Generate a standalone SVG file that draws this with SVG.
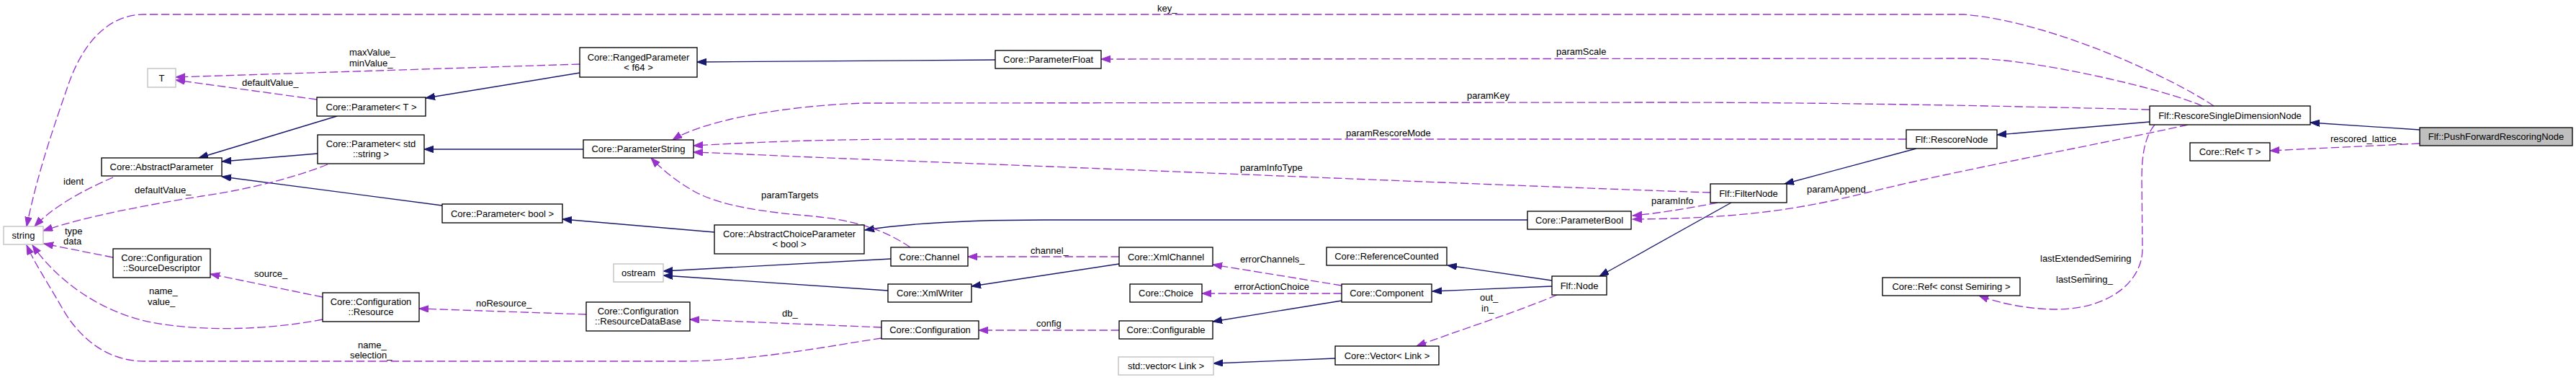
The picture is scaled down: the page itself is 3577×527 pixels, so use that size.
<svg xmlns="http://www.w3.org/2000/svg" width="3577" height="527" viewBox="0 0 3577 527">
<style>
  .n { fill: #ffffff; stroke: #000000; stroke-width: 1.33; }
  .ng { fill: #ffffff; stroke: #bfbfbf; stroke-width: 1.33; }
  .nf { fill: #bfbfbf; stroke: #000000; stroke-width: 1.33; }
  text { font-family: "Liberation Sans", Arial, sans-serif; font-size: 13px; fill: #000000; }
  .t { text-anchor: middle; }
  .inh { fill: none; stroke: #191970; stroke-width: 1.33; marker-end: url(#ab); }
  .use { fill: none; stroke: #9a32cd; stroke-width: 1.33; stroke-dasharray: 11.5,4.5; marker-end: url(#ap); }
</style>
<defs>
  <marker id="ab" markerUnits="userSpaceOnUse" markerWidth="14" markerHeight="10" refX="13" refY="4.7" orient="auto">
    <path d="M0,0 L13,4.7 L0,9.4 z" fill="#191970" stroke="#191970" stroke-width="1"/>
  </marker>
  <marker id="ap" markerUnits="userSpaceOnUse" markerWidth="14" markerHeight="10" refX="13" refY="4.7" orient="auto">
    <path d="M0,0 L13,4.7 L0,9.4 z" fill="#9a32cd" stroke="#9a32cd" stroke-width="1"/>
  </marker>
</defs>
<rect x="0" y="0" width="3577" height="527" fill="#ffffff"/>

<g id="connectors">
  <!-- inheritance -->
  <path class="inh" d="M3360,180 L3208,170"/>
  <path class="inh" d="M2985,169 L2773,187"/>
  <path class="inh" d="M2661,206 L2478,255"/>
  <path class="inh" d="M2404,281 L2221,383"/>
  <path class="inh" d="M2155,389 L2010,368"/>
  <path class="inh" d="M2155,397 L1989,404"/>
  <path class="inh" d="M1863,417 L1684,446"/>
  <path class="inh" d="M1854,497 L1685,504"/>
  <path class="inh" d="M1554,366 L1349,397"/>
  <path class="inh" d="M1233,403 L921,382"/>
  <path class="inh" d="M1237,359 L921,376"/>
  <path class="inh" d="M2121,305 L1450,305 C1350,305 1260,310 1201,319"/>
  <path class="inh" d="M992,322 L781,304"/>
  <path class="inh" d="M614,285 L308,245"/>
  <path class="inh" d="M441,213 L308,224"/>
  <path class="inh" d="M468,161 L276,219"/>
  <path class="inh" d="M805,101 L591,136"/>
  <path class="inh" d="M1382,83 L968,86"/>
  <path class="inh" d="M810,207 L589,207"/>
  <!-- usage -->
  <path class="use" d="M3074,147 C3020,110 2850,30 2727,20 L200,20 C150,20 115,60 95,117 C75,175 52,240 37,314"/>
  <path class="use" d="M3058,147 C3010,125 2830,82 2739,81 L1529,82"/>
  <path class="use" d="M2985,152 C2700,145 2500,142 2300,142 L1200,143 C1100,146 980,165 934,194"/>
  <path class="use" d="M2647,193 L1250,193 C1100,194 1020,199 963,202"/>
  <path class="use" d="M2375,267 C2100,258 1500,232 1200,221 C1100,217 1020,213 963,211"/>
  <path class="use" d="M3038,173 C2950,193 2700,240 2593,267 C2500,290 2420,303 2267,304"/>
  <path class="use" d="M2385,281 C2340,290 2300,296 2267,299"/>
  <path class="use" d="M2992,173 C2978,190 2974,215 2974,250 L2975,345 C2975,390 2930,428 2857,429 C2820,429 2780,422 2748,410"/>
  <path class="use" d="M3360,199 L3152,209"/>
  <path class="use" d="M2162,409 C2100,435 2020,460 1967,480"/>
  <path class="use" d="M1863,396 L1684,367"/>
  <path class="use" d="M1863,407 L1669,407"/>
  <path class="use" d="M1554,458 L1359,458"/>
  <path class="use" d="M1554,356 L1344,356"/>
  <path class="use" d="M1264,343 C1230,320 1190,305 1120,299 C1060,294 1000,285 965,266 C940,252 920,236 904,219"/>
  <path class="use" d="M805,89 L244,107"/>
  <path class="use" d="M440,138 L244,111"/>
  <path class="use" d="M157,246 C120,262 75,285 48,314"/>
  <path class="use" d="M455,228 C400,250 330,265 280,272 C200,285 120,300 60,320"/>
  <path class="use" d="M157,357 L61,338"/>
  <path class="use" d="M448,412 L292,380"/>
  <path class="use" d="M448,443 C370,458 280,460 210,447 C140,433 80,390 45,340"/>
  <path class="use" d="M1224,469 C1150,480 1050,500 950,501 L200,501 C150,501 110,470 85,425 C65,390 48,365 37,340"/>
  <path class="use" d="M814,436 L582,428"/>
  <path class="use" d="M1224,454 L958,443"/>
  <!-- labels -->
  <text x="1607" y="16">key_</text>
  <text x="2161" y="76">paramScale</text>
  <text x="2037" y="137">paramKey</text>
  <text x="1869" y="189">paramRescoreMode</text>
  <text x="1722" y="237">paramInfoType</text>
  <text x="2293" y="283">paramInfo</text>
  <text x="2509" y="267">paramAppend</text>
  <text x="2833" y="363">lastExtendedSemiring</text>
  <text x="2895" y="378">_</text>
  <text x="2855" y="392">lastSemiring_</text>
  <text x="3236" y="197">rescored_lattice_</text>
  <text x="2055" y="417">out_</text>
  <text x="2057" y="432">in_</text>
  <text x="1722" y="364">errorChannels_</text>
  <text x="1714" y="402">errorActionChoice</text>
  <text x="1439" y="453">config</text>
  <text x="1431" y="352">channel_</text>
  <text x="1057" y="275">paramTargets</text>
  <text x="1086" y="439">db_</text>
  <text x="661" y="425">noResource_</text>
  <text x="485" y="77">maxValue_</text>
  <text x="485" y="92">minValue_</text>
  <text x="336" y="119">defaultValue_</text>
  <text x="88" y="256">ident</text>
  <text x="187" y="268">defaultValue_</text>
  <text x="90" y="325">type</text>
  <text x="88" y="339">data</text>
  <text x="353" y="384">source_</text>
  <text x="207" y="408">name_</text>
  <text x="205" y="423">value_</text>
  <text x="497" y="483">name_</text>
  <text x="486" y="497">selection_</text>
</g>

<g id="n-string"><rect class="ng" x="5" y="314" width="55" height="25"/><text class="t" x="32.5" y="331">string</text></g>
<g id="n-T"><rect class="ng" x="205" y="95" width="39" height="26"/><text class="t" x="224.5" y="112.5">T</text></g>
<g id="n-AbstractParameter"><rect class="n" x="141" y="219" width="167" height="25"/><text class="t" x="224.5" y="236">Core::AbstractParameter</text></g>
<g id="n-ParameterT"><rect class="n" x="440" y="135" width="151" height="26"/><text class="t" x="515.5" y="152.5">Core::Parameter&lt; T &gt;</text></g>
<g id="n-ParameterStdString"><rect class="n" x="441" y="187" width="148" height="40"/><text class="t" x="515" y="204">Core::Parameter&lt; std</text><text class="t" x="515" y="218">::string &gt;</text></g>
<g id="n-SourceDescriptor"><rect class="n" x="157" y="345" width="135" height="40"/><text class="t" x="224.5" y="362">Core::Configuration</text><text class="t" x="224.5" y="376">::SourceDescriptor</text></g>
<g id="n-Resource"><rect class="n" x="448" y="406" width="134" height="40"/><text class="t" x="515" y="423">Core::Configuration</text><text class="t" x="515" y="437">::Resource</text></g>
<g id="n-RangedParameter"><rect class="n" x="805" y="66" width="163" height="41"/><text class="t" x="886.5" y="83.5">Core::RangedParameter</text><text class="t" x="886.5" y="97.5">&lt; f64 &gt;</text></g>
<g id="n-ParameterString"><rect class="n" x="810" y="194" width="153" height="25"/><text class="t" x="886.5" y="211">Core::ParameterString</text></g>
<g id="n-ParameterBoolT"><rect class="n" x="614" y="283" width="167" height="26"/><text class="t" x="697.5" y="300.5">Core::Parameter&lt; bool &gt;</text></g>
<g id="n-AbstractChoiceParameter"><rect class="n" x="992" y="312" width="208" height="40"/><text class="t" x="1096" y="329">Core::AbstractChoiceParameter</text><text class="t" x="1096" y="343">&lt; bool &gt;</text></g>
<g id="n-ostream"><rect class="ng" x="852" y="366" width="69" height="25"/><text class="t" x="886.5" y="383">ostream</text></g>
<g id="n-ResourceDataBase"><rect class="n" x="814" y="419" width="144" height="40"/><text class="t" x="886" y="436">Core::Configuration</text><text class="t" x="886" y="450">::ResourceDataBase</text></g>
<g id="n-ParameterFloat"><rect class="n" x="1382" y="70" width="147" height="25"/><text class="t" x="1455.5" y="87">Core::ParameterFloat</text></g>
<g id="n-Channel"><rect class="n" x="1237" y="343" width="107" height="26"/><text class="t" x="1290.5" y="360.5">Core::Channel</text></g>
<g id="n-XmlChannel"><rect class="n" x="1554" y="343" width="130" height="26"/><text class="t" x="1619" y="360.5">Core::XmlChannel</text></g>
<g id="n-XmlWriter"><rect class="n" x="1233" y="394" width="116" height="25"/><text class="t" x="1291" y="411">Core::XmlWriter</text></g>
<g id="n-Choice"><rect class="n" x="1569" y="394" width="100" height="25"/><text class="t" x="1619" y="411">Core::Choice</text></g>
<g id="n-Configuration"><rect class="n" x="1224" y="445" width="135" height="25"/><text class="t" x="1291.5" y="462">Core::Configuration</text></g>
<g id="n-Configurable"><rect class="n" x="1554" y="445" width="130" height="25"/><text class="t" x="1619" y="462">Core::Configurable</text></g>
<g id="n-stdVectorLink"><rect class="ng" x="1553" y="495" width="132" height="25"/><text class="t" x="1619" y="512">std::vector&lt; Link &gt;</text></g>
<g id="n-ReferenceCounted"><rect class="n" x="1842" y="343" width="167" height="25"/><text class="t" x="1925.5" y="360">Core::ReferenceCounted</text></g>
<g id="n-Component"><rect class="n" x="1863" y="394" width="125" height="25"/><text class="t" x="1925.5" y="411">Core::Component</text></g>
<g id="n-Node"><rect class="n" x="2155" y="383" width="76" height="26"/><text class="t" x="2193" y="400.5">Flf::Node</text></g>
<g id="n-VectorLink"><rect class="n" x="1854" y="480" width="144" height="26"/><text class="t" x="1926" y="497.5">Core::Vector&lt; Link &gt;</text></g>
<g id="n-ParameterBool"><rect class="n" x="2121" y="293" width="144" height="25"/><text class="t" x="2193" y="310">Core::ParameterBool</text></g>
<g id="n-FilterNode"><rect class="n" x="2375" y="255" width="106" height="26"/><text class="t" x="2428" y="272.5">Flf::FilterNode</text></g>
<g id="n-RescoreNode"><rect class="n" x="2647" y="180" width="126" height="26"/><text class="t" x="2710" y="197.5">Flf::RescoreNode</text></g>
<g id="n-RefSemiring"><rect class="n" x="2614" y="385" width="191" height="25"/><text class="t" x="2709.5" y="402">Core::Ref&lt; const Semiring &gt;</text></g>
<g id="n-RescoreSingleDimensionNode"><rect class="n" x="2985" y="147" width="223" height="26"/><text class="t" x="3096.5" y="164.5">Flf::RescoreSingleDimensionNode</text></g>
<g id="n-RefT"><rect class="n" x="3041" y="198" width="111" height="25"/><text class="t" x="3096.5" y="215">Core::Ref&lt; T &gt;</text></g>
<g id="n-PushForwardRescoringNode"><rect class="nf" x="3360" y="177" width="212" height="25"/><text class="t" x="3466" y="194">Flf::PushForwardRescoringNode</text></g>
</svg>
